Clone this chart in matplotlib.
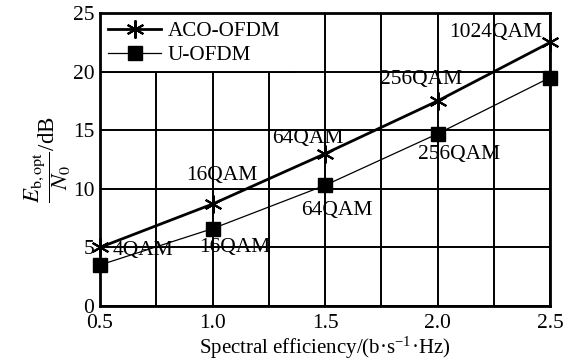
import numpy as np
import matplotlib.pyplot as plt
from matplotlib.patches import Rectangle

plt.rcParams['font.family'] = ['Liberation Serif', 'DejaVu Serif']
plt.rcParams['mathtext.fontset'] = 'stix'

# spectral efficiency and required Eb,opt/N0 for each modulation order
eff = [0.5, 1.0, 1.5, 2.0, 2.5]
aco_ofdm = [5.0, 8.7, 13.0, 17.5, 22.5]
u_ofdm = [3.5, 6.6, 10.3, 14.7, 19.5]
aco_labels = ['4QAM', '16QAM', '64QAM', '256QAM', '1024QAM']
u_labels = ['16QAM', '64QAM', '256QAM']

# where each modulation label sits (data coords)
aco_label_pos = [(0.558, 4.7), (1.042, 11.1), (1.425, 14.3), (1.927, 19.3), (2.256, 23.3)]
u_label_pos = [(1.10, 5.0), (1.553, 8.15), (2.096, 12.9)]

fig = plt.figure(figsize=(5.81, 3.63), dpi=100)
ax = fig.add_axes([0.172, 0.157, 0.775, 0.807])

ax.plot(eff, aco_ofdm, 'k-', marker=(6, 2, 0), markersize=13, markeredgewidth=1.5,
        linewidth=2.0, label='ACO-OFDM', clip_on=False, zorder=4)
ax.plot(eff, u_ofdm, 'k-', marker='s', markersize=10, linewidth=0.9,
        label='U-OFDM', clip_on=False, zorder=4)

fs = 15.5
for (x, y), s in zip(aco_label_pos, aco_labels):
    ax.text(x, y, s, fontsize=fs, ha='left' if s == '4QAM' else 'center', va='center')
for (x, y), s in zip(u_label_pos, u_labels):
    ax.text(x, y, s, fontsize=fs, ha='center', va='center')

ax.set_xlim(0.5, 2.5)
ax.set_ylim(0, 25)
ax.set_xticks(np.arange(0.5, 2.51, 0.25))
ax.set_xticklabels(['0.5', '', '1.0', '', '1.5', '', '2.0', '', '2.5'])
ax.set_yticks([0, 5, 10, 15, 20, 25])
ax.tick_params(length=0, labelsize=15.5)
ax.tick_params(axis='x', pad=6)
ax.tick_params(axis='y', pad=4)
ax.grid(True, color='k', linewidth=1.4)
for s in ax.spines.values():
    s.set_linewidth(2.0)

ax.set_xlabel('Spectral efficiency/(b·s$^{\\mathregular{-1}}$·Hz)', fontsize=15, labelpad=1)
ax.set_ylabel(r'$\dfrac{E_{\mathrm{b,opt}}}{N_0}$/dB', fontsize=16.5, labelpad=0)

# white panel behind the legend, sitting on the 20 dB grid line
ax.add_patch(Rectangle((0, 0.8), 0.43, 0.2, transform=ax.transAxes,
                       facecolor='white', edgecolor='none', zorder=2))
ax.axhline(20, xmin=0, xmax=0.43, color='k', linewidth=1.4, zorder=2.1)

leg = ax.legend(loc='upper left', fontsize=15.2, frameon=False,
                borderaxespad=0.1, handlelength=2.5, handletextpad=0.3,
                borderpad=0.3, labelspacing=0.2)
leg.set_zorder(5)

fig.savefig('out.png', dpi=100)
